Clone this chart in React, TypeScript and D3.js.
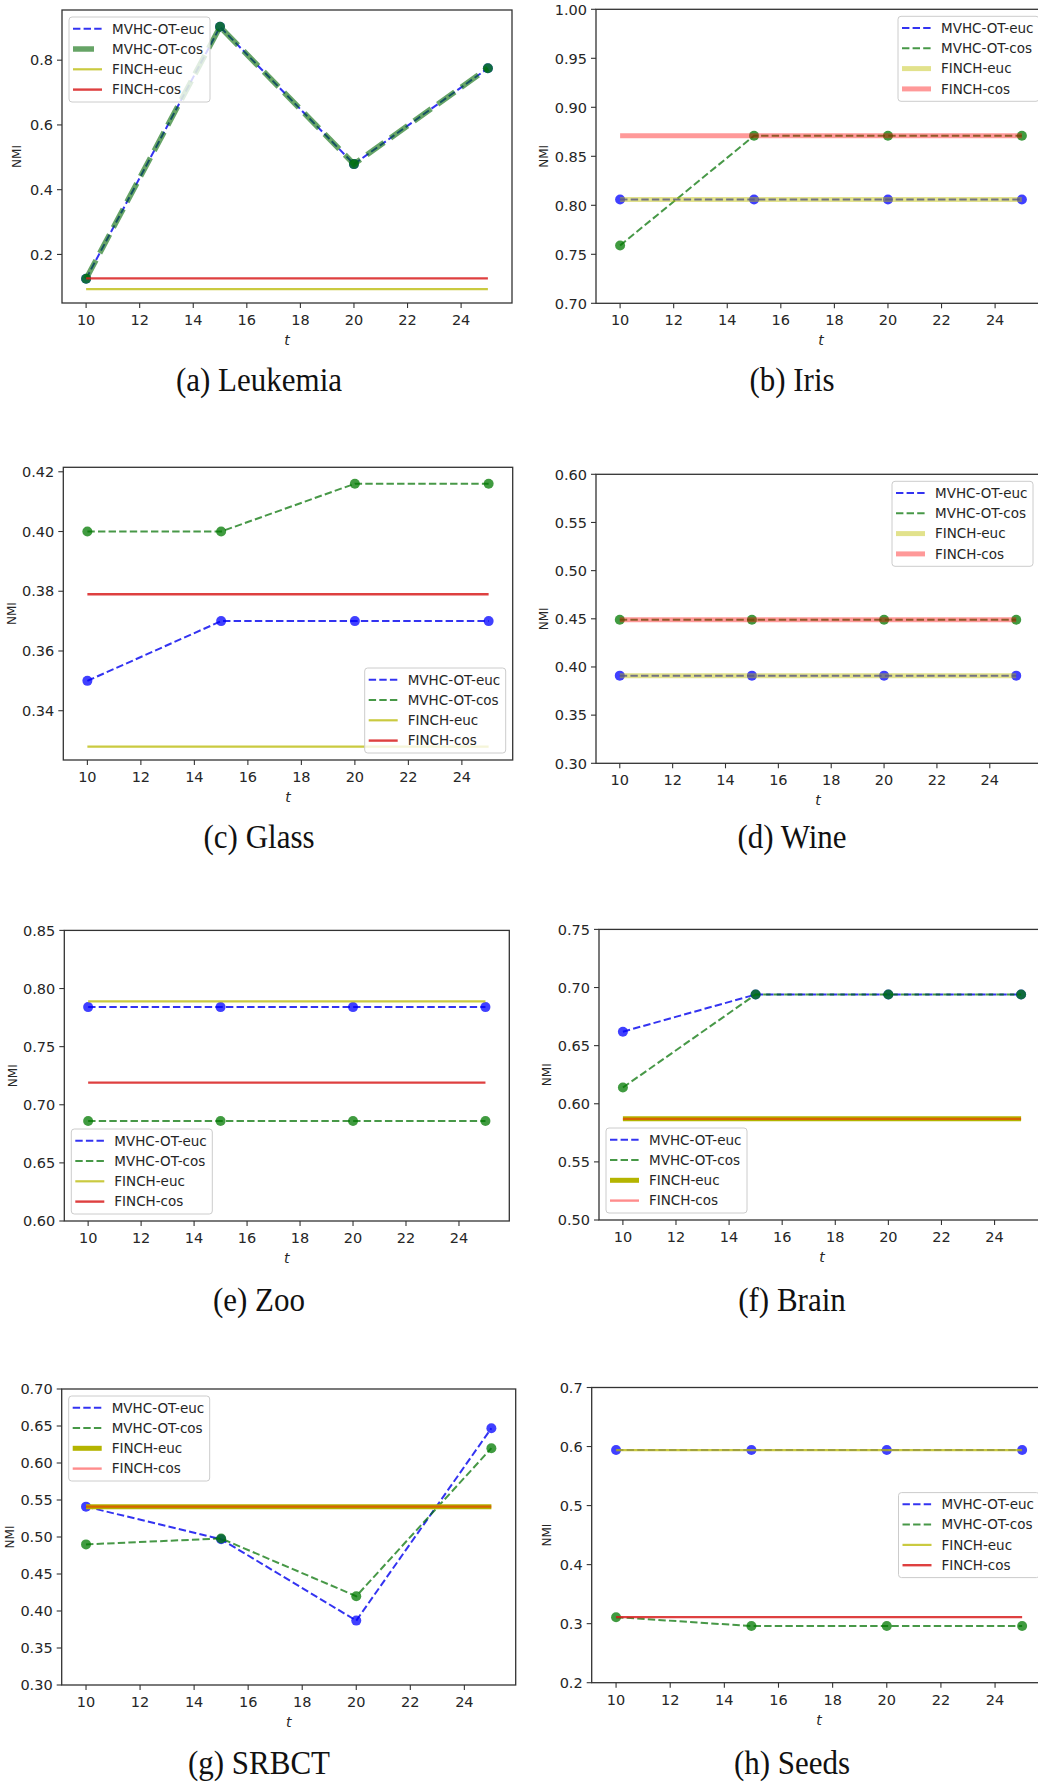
import * as d3 from "d3";

// x values (number of iterations t) shared by every panel
const tValues = [10, 15, 20, 25];
const xTicks = [10, 12, 14, 16, 18, 20, 22, 24];
const xDomain = [9.1, 25.9];

const seriesNames = ["MVHC-OT-euc", "MVHC-OT-cos", "FINCH-euc", "FINCH-cos"];
const captions = [
  "(a) Leukemia",
  "(b) Iris",
  "(c) Glass",
  "(d) Wine",
  "(e) Zoo",
  "(f) Brain",
  "(g) SRBCT",
  "(h) Seeds",
];

// NMI per dataset, one row per panel
const mvhcEucNMI = [
  [0.125, 0.903, 0.479, 0.775],
  [0.806, 0.806, 0.806, 0.806],
  [0.35, 0.37, 0.37, 0.37],
  [0.391, 0.391, 0.391, 0.391],
  [0.784, 0.784, 0.784, 0.784],
  [0.662, 0.694, 0.694, 0.694],
  [0.541, 0.497, 0.387, 0.647],
  [0.594, 0.594, 0.594, 0.594],
];
const mvhcCosNMI = [
  [0.125, 0.903, 0.479, 0.775],
  [0.759, 0.871, 0.871, 0.871],
  [0.4, 0.4, 0.416, 0.416],
  [0.449, 0.449, 0.449, 0.449],
  [0.686, 0.686, 0.686, 0.686],
  [0.614, 0.694, 0.694, 0.694],
  [0.49, 0.498, 0.42, 0.62],
  [0.311, 0.296, 0.296, 0.296],
];
const finchEucNMI = [0.093, 0.806, 0.328, 0.391, 0.789, 0.587, 0.541, 0.594];
const finchCosNMI = [0.126, 0.871, 0.379, 0.449, 0.719, 0.587, 0.541, 0.311];

const yDomains = [
  [0.05, 0.955],
  [0.7, 1.0],
  [0.3235, 0.4215],
  [0.3, 0.6],
  [0.6, 0.85],
  [0.5, 0.75],
  [0.3, 0.7],
  [0.2, 0.7],
];
const yTicks = [
  [0.2, 0.4, 0.6, 0.8],
  [0.7, 0.75, 0.8, 0.85, 0.9, 0.95, 1.0],
  [0.34, 0.36, 0.38, 0.4, 0.42],
  [0.3, 0.35, 0.4, 0.45, 0.5, 0.55, 0.6],
  [0.6, 0.65, 0.7, 0.75, 0.8, 0.85],
  [0.5, 0.55, 0.6, 0.65, 0.7, 0.75],
  [0.3, 0.35, 0.4, 0.45, 0.5, 0.55, 0.6, 0.65, 0.7],
  [0.2, 0.3, 0.4, 0.5, 0.6, 0.7],
];
const yDecimals = [1, 2, 2, 2, 2, 2, 2, 1];

// layout of each subplot in page pixels
const frames = [
  { left: 62, top: 10, right: 512, bottom: 303, legend: "ul", cx: 259, cy: 391 },
  { left: 596, top: 9.3, right: 1046, bottom: 303.3, legend: "ur", cx: 792, cy: 391 },
  { left: 63.3, top: 467.3, right: 512.7, bottom: 760, legend: "lr", cx: 259, cy: 848 },
  { left: 596, top: 474.3, right: 1040, bottom: 763.3, legend: "ur", cx: 792, cy: 848 },
  { left: 64.3, top: 930.4, right: 509.3, bottom: 1221, legend: "ll", cx: 259, cy: 1311 },
  { left: 599, top: 929.4, right: 1045, bottom: 1220, legend: "ll", cx: 792, cy: 1311 },
  { left: 61.7, top: 1389, right: 515.7, bottom: 1685, legend: "ul", cx: 259, cy: 1774 },
  { left: 591.7, top: 1387.5, right: 1046.5, bottom: 1682.7, legend: "cr", cx: 792, cy: 1774 },
];

type LineStyle = { color: string; width: number; dash?: string; opacity: number };

const eucLine: LineStyle = { color: "#0000ee", width: 2, dash: "7.4,3.2", opacity: 0.8 };
const cosLine: LineStyle = { color: "#007000", width: 2, dash: "7.4,3.2", opacity: 0.72 };
const cosThick: LineStyle = { color: "#006800", width: 5.5, dash: "21,8", opacity: 0.6 };
const finchEucThin: LineStyle = { color: "#bdbd10", width: 2.2, opacity: 0.8 };
const finchCosThin: LineStyle = { color: "#d81e1e", width: 2.4, opacity: 0.85 };
const finchEucSoft: LineStyle = { color: "#bfbf00", width: 5, opacity: 0.45 };
const finchCosSoft: LineStyle = { color: "#ff0000", width: 5, opacity: 0.4 };
const finchEucOlive: LineStyle = { color: "#b4b400", width: 5, opacity: 1 };
const finchCosPink: LineStyle = { color: "#ff0000", width: 2.4, opacity: 0.45 };

const panelStyles: LineStyle[][] = [
  [eucLine, cosThick, finchEucThin, finchCosThin],
  [eucLine, cosLine, finchEucSoft, finchCosSoft],
  [eucLine, cosLine, finchEucThin, finchCosThin],
  [eucLine, cosLine, finchEucSoft, finchCosSoft],
  [eucLine, cosLine, finchEucThin, finchCosThin],
  [eucLine, cosLine, finchEucOlive, finchCosPink],
  [eucLine, cosLine, finchEucOlive, finchCosPink],
  [eucLine, cosLine, finchEucThin, finchCosThin],
];

const SANS = "'DejaVu Sans', sans-serif";
const INK = "#262626";

function Legend({ f, styles }: { f: (typeof frames)[number]; styles: LineStyle[] }) {
  const w = 141;
  const h = 85;
  const inset = 7;
  let bx = f.left + inset;
  let by = f.top + inset;
  if (f.legend === "ur" || f.legend === "lr" || f.legend === "cr") bx = f.right - inset - w;
  if (f.legend === "lr" || f.legend === "ll") by = f.bottom - inset - h;
  if (f.legend === "cr") by = (f.top + f.bottom) / 2 - h / 2;
  return (
    <g>
      <rect x={bx} y={by} width={w} height={h} rx={3} fill="#fff" fillOpacity={0.8} stroke="#cccccc" strokeWidth={1} />
      {seriesNames.map((name, k) => {
        const yy = by + 11.7 + k * 20.3;
        const s = styles[k];
        return (
          <g key={name}>
            <line
              x1={bx + 4}
              x2={bx + 33}
              y1={yy}
              y2={yy}
              stroke={s.color}
              strokeWidth={s.width}
              strokeOpacity={s.opacity}
              strokeDasharray={s.dash}
            />
            <text x={bx + 43} y={yy} dy="0.36em" fontSize={13.5} fontFamily={SANS} fill={INK}>
              {name}
            </text>
          </g>
        );
      })}
    </g>
  );
}

function Panel({ i }: { i: number }) {
  const f = frames[i];
  const x = d3.scaleLinear().domain(xDomain).range([f.left, f.right]);
  const y = d3.scaleLinear().domain(yDomains[i]).range([f.bottom, f.top]);
  const fmt = d3.format(yDecimals[i] === 1 ? ".1f" : ".2f");
  const styles = panelStyles[i];
  const path = d3
    .line<number>()
    .x((_, k) => x(tValues[k]))
    .y((v) => y(v));
  const flat = (v: number) =>
    d3.line<number>().x((t) => x(t)).y(() => y(v))([tValues[0], tValues[tValues.length - 1]]) ?? "";

  const mvhc = [mvhcEucNMI[i], mvhcCosNMI[i]];
  const markerColors = ["#0000ff", "#007a00"];
  const finch = [finchEucNMI[i], finchCosNMI[i]];

  return (
    <g>
      {/* MVHC-OT series, euc then cos */}
      {mvhc.map((vals, s) => (
        <g key={s}>
          <path
            d={path(vals) ?? ""}
            fill="none"
            stroke={styles[s].color}
            strokeWidth={styles[s].width}
            strokeOpacity={styles[s].opacity}
            strokeDasharray={styles[s].dash}
          />
          {vals.map((v, k) => (
            <circle key={k} cx={x(tValues[k])} cy={y(v)} r={5} fill={markerColors[s]} fillOpacity={0.75} />
          ))}
        </g>
      ))}
      {/* FINCH baselines */}
      {finch.map((v, s) => (
        <path
          key={s}
          d={flat(v)}
          fill="none"
          stroke={styles[s + 2].color}
          strokeWidth={styles[s + 2].width}
          strokeOpacity={styles[s + 2].opacity}
        />
      ))}

      {/* frame */}
      <rect
        x={f.left}
        y={f.top}
        width={f.right - f.left}
        height={f.bottom - f.top}
        fill="none"
        stroke="#333"
        strokeWidth={1.3}
      />

      {/* x axis */}
      {xTicks.map((t) => (
        <g key={t}>
          <line x1={x(t)} x2={x(t)} y1={f.bottom} y2={f.bottom + 5} stroke="#333" strokeWidth={1.1} />
          <text x={x(t)} y={f.bottom + 22} textAnchor="middle" fontSize={14.5} fontFamily={SANS} fill={INK}>
            {t}
          </text>
        </g>
      ))}
      <text
        x={(f.left + f.right) / 2}
        y={f.bottom + 42}
        textAnchor="middle"
        fontSize={14}
        fontStyle="italic"
        fontFamily={SANS}
        fill={INK}
      >
        t
      </text>

      {/* y axis */}
      {yTicks[i].map((v) => (
        <g key={v}>
          <line x1={f.left - 5} x2={f.left} y1={y(v)} y2={y(v)} stroke="#333" strokeWidth={1.1} />
          <text
            x={f.left - 9}
            y={y(v)}
            dy="0.36em"
            textAnchor="end"
            fontSize={14.5}
            fontFamily={SANS}
            fill={INK}
          >
            {fmt(v)}
          </text>
        </g>
      ))}
      <text
        transform={`translate(${f.left - (yDecimals[i] === 1 ? 45 : 52)},${(f.top + f.bottom) / 2}) rotate(-90)`}
        dy="0.36em"
        textAnchor="middle"
        fontSize={12}
        fontFamily={SANS}
        fill={INK}
      >
        NMI
      </text>

      <Legend f={f} styles={styles} />

      <text
        transform={`translate(${f.cx},${f.cy}) scale(1,1.12)`}
        textAnchor="middle"
        fontSize={31}
        fontFamily="'Liberation Serif', 'DejaVu Serif', serif"
        fill="#111"
      >
        {captions[i]}
      </text>
    </g>
  );
}

export default function App() {
  return (
    <div style={{ position: "absolute", left: 0, top: 0, background: "#fff" }}>
      <svg width={1038} height={1783} style={{ display: "block" }}>
        <rect width={1038} height={1783} fill="#fff" />
        {captions.map((_, i) => (
          <Panel key={i} i={i} />
        ))}
      </svg>
    </div>
  );
}
